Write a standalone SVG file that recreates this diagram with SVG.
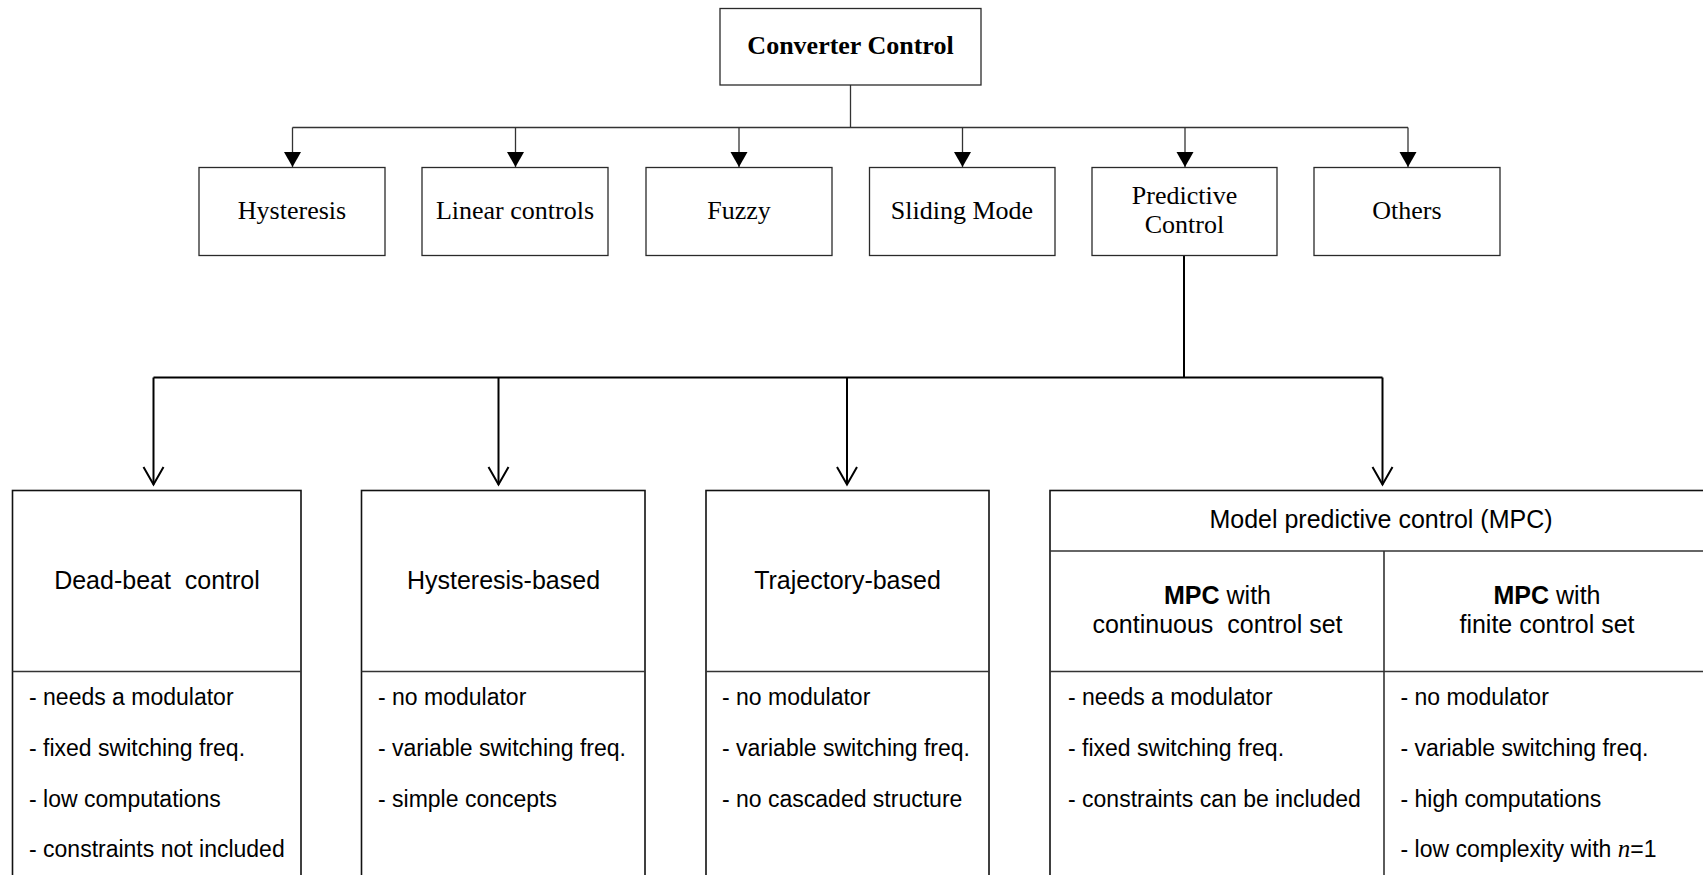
<svg xmlns="http://www.w3.org/2000/svg" width="1703" height="875" viewBox="0 0 1703 875">
  <style>
    .bg { fill: #ffffff; }
    .box { fill: #ffffff; stroke: #2a2a2a; stroke-width: 1.3; }
    .panel { fill: #ffffff; stroke: #111111; stroke-width: 1.6; }
    .div { stroke: #333333; stroke-width: 1.6; fill: none; }
    .serif { font-family: "Liberation Serif", "Times New Roman", serif; font-size: 26px; fill: #000; text-anchor: middle; }
    .serif-b { font-weight: bold; }
    .sans-t { font-family: "Liberation Sans", Arial, sans-serif; font-size: 25px; fill: #000; text-anchor: middle; white-space: pre; }
    .sans-l { font-family: "Liberation Sans", Arial, sans-serif; font-size: 23px; fill: #000; white-space: pre; }
    .thin { stroke: #333333; stroke-width: 1.3; fill: none; }
    .thick { stroke: #000000; stroke-width: 2; fill: none; }
    .math { font-family: "Liberation Serif", "Times New Roman", serif; font-style: italic; font-size: 25px; }
  </style>
  <defs>
    <marker id="tri" markerUnits="userSpaceOnUse" markerWidth="18" markerHeight="20" viewBox="-16 -10 17 20" refX="0" refY="0" orient="auto">
      <path d="M-15,-8.5 L0,0 L-15,8.5 Z" fill="#000"/>
    </marker>
    <marker id="vee" markerUnits="userSpaceOnUse" markerWidth="22" markerHeight="24" viewBox="-20 -12 22 24" refX="0" refY="0" orient="auto">
      <path d="M-17.6,-10 L0,0 L-17.6,10" fill="none" stroke="#000" stroke-width="2"/>
    </marker>
  </defs>

  <rect class="bg" x="0" y="0" width="1703" height="875"/>

  <!-- connectors -->
  <g id="connectors">
    <!-- root to first level -->
    <path class="thin" d="M850.5,85 V127.5"/>
    <path class="thin" d="M292.5,127.5 H1408"/>
    <path class="thin" d="M292.5,127.5 V167" marker-end="url(#tri)"/>
    <path class="thin" d="M515.5,127.5 V167" marker-end="url(#tri)"/>
    <path class="thin" d="M739,127.5 V167" marker-end="url(#tri)"/>
    <path class="thin" d="M962.5,127.5 V167" marker-end="url(#tri)"/>
    <path class="thin" d="M1185,127.5 V167" marker-end="url(#tri)"/>
    <path class="thin" d="M1408,127.5 V167" marker-end="url(#tri)"/>
    <!-- predictive control to its families -->
    <path class="thick" d="M1184,255.5 V377.5"/>
    <path class="thick" d="M153.5,377.5 H1382.5"/>
    <path class="thick" d="M153.5,377.5 V484.5" marker-end="url(#vee)"/>
    <path class="thick" d="M498.5,377.5 V484.5" marker-end="url(#vee)"/>
    <path class="thick" d="M847,377.5 V484.5" marker-end="url(#vee)"/>
    <path class="thick" d="M1382.5,377.5 V484.5" marker-end="url(#vee)"/>
  </g>

  <!-- root -->
  <g id="converter-control">
    <rect class="box" x="720" y="8.5" width="261" height="76.5"/>
    <text class="serif serif-b" x="850.5" y="54">Converter Control</text>
  </g>

  <!-- first level -->
  <g id="hysteresis">
    <rect class="box" x="199" y="167.5" width="186" height="88"/>
    <text class="serif" x="292" y="219">Hysteresis</text>
  </g>
  <g id="linear-controls">
    <rect class="box" x="422" y="167.5" width="186" height="88"/>
    <text class="serif" x="515" y="219">Linear controls</text>
  </g>
  <g id="fuzzy">
    <rect class="box" x="646" y="167.5" width="186" height="88"/>
    <text class="serif" x="739" y="219">Fuzzy</text>
  </g>
  <g id="sliding-mode">
    <rect class="box" x="869.5" y="167.5" width="185.5" height="88"/>
    <text class="serif" x="962" y="219">Sliding Mode</text>
  </g>
  <g id="predictive-control">
    <rect class="box" x="1092" y="167.5" width="185" height="88"/>
    <text class="serif" x="1184.5" y="204">Predictive</text>
    <text class="serif" x="1184.5" y="233">Control</text>
  </g>
  <g id="others">
    <rect class="box" x="1314" y="167.5" width="186" height="88"/>
    <text class="serif" x="1407" y="219">Others</text>
  </g>

  <!-- predictive control families -->
  <g id="dead-beat">
    <rect class="panel" x="12.5" y="490.5" width="288.5" height="400"/>
    <path class="div" d="M12.5,671.5 H301"/>
    <text class="sans-t" x="157" y="589">Dead-beat  control</text>
    <text class="sans-l" x="29" y="705">- needs a modulator</text>
    <text class="sans-l" x="29" y="756">- fixed switching freq.</text>
    <text class="sans-l" x="29" y="807">- low computations</text>
    <text class="sans-l" x="29" y="857">- constraints not included</text>
  </g>
  <g id="hysteresis-based">
    <rect class="panel" x="361.5" y="490.5" width="283.5" height="400"/>
    <path class="div" d="M361.5,671.5 H645"/>
    <text class="sans-t" x="503.5" y="589">Hysteresis-based</text>
    <text class="sans-l" x="378" y="705">- no modulator</text>
    <text class="sans-l" x="378" y="756">- variable switching freq.</text>
    <text class="sans-l" x="378" y="807">- simple concepts</text>
  </g>
  <g id="trajectory-based">
    <rect class="panel" x="706" y="490.5" width="283" height="400"/>
    <path class="div" d="M706,671.5 H989"/>
    <text class="sans-t" x="847.5" y="589">Trajectory-based</text>
    <text class="sans-l" x="722" y="705">- no modulator</text>
    <text class="sans-l" x="722" y="756">- variable switching freq.</text>
    <text class="sans-l" x="722" y="807">- no cascaded structure</text>
  </g>
  <g id="mpc">
    <rect class="panel" x="1050" y="490.5" width="662" height="400"/>
    <path class="div" d="M1050,551 H1712"/>
    <path class="div" d="M1050,671.5 H1712"/>
    <path class="div" d="M1384,551 V890"/>
    <text class="sans-t" x="1381" y="528">Model predictive control (MPC)</text>
    <!-- continuous control set column -->
    <text class="sans-t" x="1217.5" y="604"><tspan font-weight="bold">MPC</tspan> with</text>
    <text class="sans-t" x="1217.5" y="633">continuous  control set</text>
    <text class="sans-l" x="1068" y="705">- needs a modulator</text>
    <text class="sans-l" x="1068" y="756">- fixed switching freq.</text>
    <text class="sans-l" x="1068" y="807">- constraints can be included</text>
    <!-- finite control set column -->
    <text class="sans-t" x="1547" y="604"><tspan font-weight="bold">MPC</tspan> with</text>
    <text class="sans-t" x="1547" y="633">finite control set</text>
    <text class="sans-l" x="1400.5" y="705">- no modulator</text>
    <text class="sans-l" x="1400.5" y="756">- variable switching freq.</text>
    <text class="sans-l" x="1400.5" y="807">- high computations</text>
    <text class="sans-l" x="1400.5" y="857">- low complexity with <tspan class="math">n</tspan>=1</text>
  </g>
</svg>
